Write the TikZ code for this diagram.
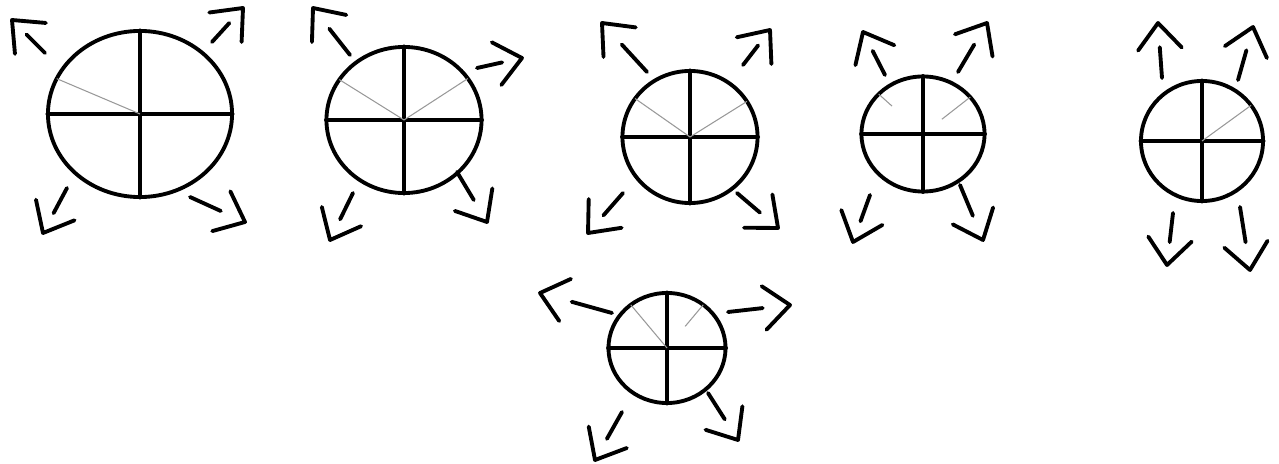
\documentclass[tikz,border=0pt]{standalone}
\usetikzlibrary{calc,shapes.geometric}

% hand drawn arrow: shaft, a gap, then an open head
\newcommand{\handarrow}[2]{%
  \draw[arw] (#1) -- ($(#1)!0.56!(#2)$);
  \draw[arw] ($(#2)!0.34cm!40:(#1)$) -- (#2) -- ($(#2)!0.34cm!-40:(#1)$);
}

\begin{document}
\begin{tikzpicture}[x=0.01cm, y=-0.01cm,
    wheel/.style={draw, ellipse, line width=1.1pt, inner sep=0pt, outer sep=0pt},
    spoke/.style={line width=1.4pt, line cap=round},
    faint/.style={line width=0.3pt, black!40},
    arw/.style={line width=1.1pt, line cap=round, line join=round},
]
\useasboundingbox (0,0) rectangle (1279,464);

% Wheels
\node[wheel, minimum width=1.84cm, minimum height=1.66cm] (c1) at (140,114) {};
\node[wheel, minimum width=1.55cm, minimum height=1.46cm] (c2) at (404,120) {};
\node[wheel, minimum width=1.35cm, minimum height=1.32cm] (c3) at (690,137) {};
\node[wheel, minimum width=1.23cm, minimum height=1.15cm] (c4) at (923,134) {};
\node[wheel, minimum width=1.22cm, minimum height=1.20cm] (c5) at (1202,141) {};
\node[wheel, minimum width=1.17cm, minimum height=1.10cm] (c6) at (667,348) {};

% Crosses
\foreach \c in {c1,c2,c3,c4,c5,c6}{
  \draw[spoke] (\c.north) -- (\c.south);
  \draw[spoke] (\c.west) -- (\c.east);
}

% Faint pencil lines
\draw[faint] (c1.157) -- (c1.center);
\draw[faint] (c2.148) -- (c2.center);
\draw[faint] (c2.33) -- (c2.center);
\draw[faint] (c3.145) -- (c3.center);
\draw[faint] (c3.32) -- (c3.center);
\draw[faint] (c4.138) -- ($(c4.138)!0.3!(c4.center)$);
\draw[faint] (c4.38) -- ($(c4.38)!0.6!(c4.center)$);
\draw[faint] (c5.36) -- (c5.center);
\draw[faint] (c6.130) -- (c6.center);
\draw[faint] (c6.50) -- ($(c6.50)!0.5!(c6.center)$);

% Arrows
\handarrow{45,53}{12,20}
\handarrow{212,42}{243,8}
\handarrow{67,188}{43,233}
\handarrow{190,197}{245,222}

\handarrow{350,55}{313,8}
\handarrow{477,68}{522,58}
\handarrow{353,193}{330,240}
\handarrow{457,172}{487,222}

\handarrow{647,72}{602,23}
\handarrow{743,65}{770,30}
\handarrow{623,193}{588,233}
\handarrow{737,193}{778,228}

\handarrow{885,75}{863,32}
\handarrow{958,72}{987,23}
\handarrow{870,195}{853,242}
\handarrow{960,185}{983,240}

\handarrow{1162,78}{1158,23}
\handarrow{1238,80}{1253,27}
\handarrow{1173,213}{1167,265}
\handarrow{1240,207}{1250,270}

\handarrow{612,313}{540,293}
\handarrow{728,312}{790,305}
\handarrow{622,412}{595,460}
\handarrow{708,393}{738,440}
\end{tikzpicture}
\end{document}
